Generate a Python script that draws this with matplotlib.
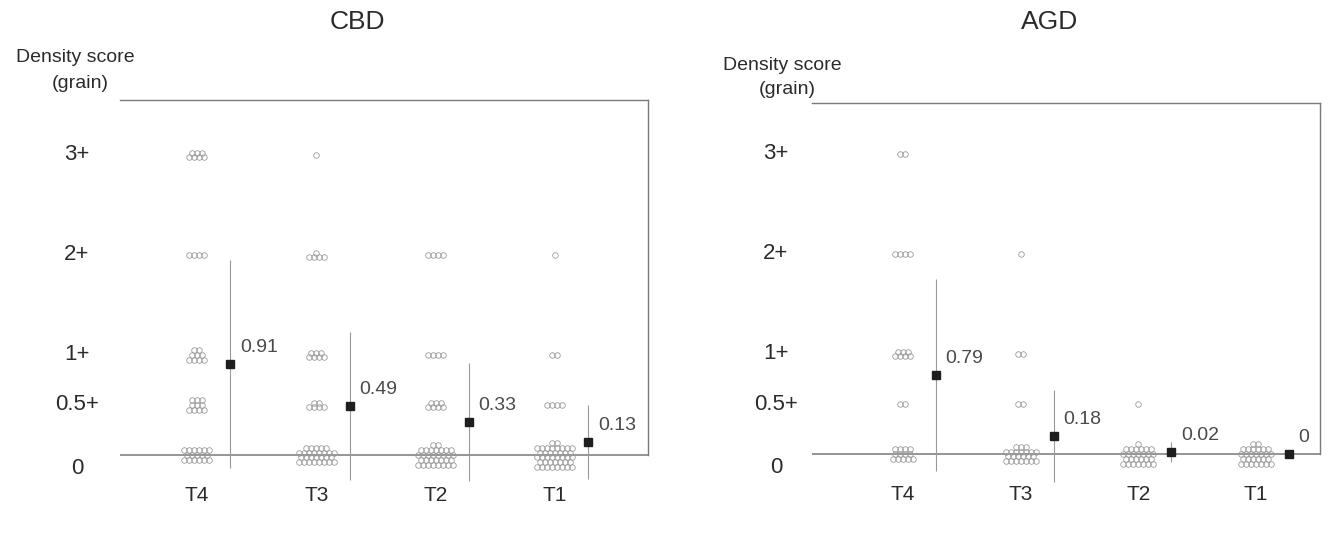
import numpy as np
import matplotlib
matplotlib.use('Agg')
import matplotlib.pyplot as plt
import matplotlib.transforms as mtransforms

plt.rcParams['font.family'] = ['Liberation Sans', 'DejaVu Sans']

# ---------------- data ----------------
groups = ['T4', 'T3', 'T2', 'T1']
score_levels = [0, 0.5, 1, 2, 3]
score_labels = ['0', '0.5+', '1+', '2+', '3+']

# number of cases at each density score, per group (T4, T3, T2, T1)
cbd_counts_zero = [17, 28, 32, 40]
cbd_counts_half = [10, 6, 7, 4]
cbd_counts_one = [9, 7, 4, 2]
cbd_counts_two = [4, 5, 4, 1]
cbd_counts_three = [7, 1, 0, 0]

agd_counts_zero = [13, 23, 27, 28]
agd_counts_half = [2, 2, 1, 0]
agd_counts_one = [7, 2, 0, 0]
agd_counts_two = [4, 1, 0, 0]
agd_counts_three = [2, 0, 0, 0]

cbd_mean = [0.91, 0.49, 0.33, 0.13]
cbd_sd = [1.04, 0.74, 0.59, 0.37]
cbd_mean_labels = ['0.91', '0.49', '0.33', '0.13']

agd_mean = [0.79, 0.18, 0.02, 0.0]
agd_sd = [0.96, 0.46, 0.10, 0.0]
agd_mean_labels = ['0.79', '0.18', '0.02', '0']

# ---------------- style ----------------
W, H = 1331, 533
DOT_EDGE = '#9a9a9a'
TEXT = '#2b2b2b'
ANN = '#4a4a4a'
LINE = '#999999'

fig = plt.figure(figsize=(W / 100, H / 100), dpi=100)
fig.patch.set_facecolor('white')


def cluster(n, width, dx, dy):
    rows = []
    remaining = n
    i = 0
    while remaining > 0:
        cap = width if i % 2 == 0 else max(1, width - 1)
        k = min(cap, remaining)
        rows.append(k)
        remaining -= k
        i += 1
    xs, ys = [], []
    nrows = len(rows)
    for r, k in enumerate(rows):
        yo = (r - (nrows - 1) / 2) * dy
        for j in range(k):
            xs.append((j - (k - 1) / 2) * dx)
            ys.append(yo)
    return xs, ys


def panel(rect, xlim, ylim, counts, zero_widths, means, sds, mlabels,
          title, title_x, dens_x, dens_y, ylab_x):
    ax = fig.add_axes(rect)
    ax.set_xlim(*xlim)
    ax.set_ylim(*ylim)
    ax.set_facecolor('none')
    wpx = rect[2] * W
    hpx = rect[3] * H
    ppx = wpx / (xlim[1] - xlim[0])
    ppy = hpx / (ylim[1] - ylim[0])
    dx = 5.0 / ppx
    dy = 4.8 / ppy

    xpos = np.arange(len(groups))
    for gi, x0 in enumerate(xpos):
        for li, lev in enumerate(score_levels):
            n = counts[li][gi]
            if n == 0:
                continue
            width = zero_widths[gi] if lev == 0 else 4
            xs, ys = cluster(n, width, dx, dy)
            ax.plot(np.array(xs) + x0, np.array(ys) + lev, 'o', ms=4.0,
                    mfc='none', mec=DOT_EDGE, mew=0.6, ls='none', zorder=3)

    off = 0.28
    for gi, x0 in enumerate(xpos):
        m, s = means[gi], sds[gi]
        if s > 0:
            ax.vlines(x0 + off, m - s, m + s, color=LINE, lw=0.8, zorder=2)
        ax.plot(x0 + off, m, 's', ms=5.8, color='#1e1e1e', zorder=4)
        ax.annotate(mlabels[gi], (x0 + off, m), xytext=(7, 12),
                    textcoords='offset points', ha='left', va='center',
                    fontsize=14, color=ANN)

    ax.axhline(0, color='#8c8c8c', lw=1.3, zorder=1)
    for sp in ['left', 'bottom']:
        ax.spines[sp].set_visible(False)
    for sp in ['top', 'right']:
        ax.spines[sp].set_color('#7a7a7a')
        ax.spines[sp].set_linewidth(1.0)
    ax.spines['right'].set_bounds(0, ylim[1])

    ax.set_xticks(xpos)
    ax.set_xticklabels(groups, fontsize=15, color=TEXT)
    ax.tick_params(axis='x', length=0, pad=1)
    ax.set_yticks([])

    blend = mtransforms.blended_transform_factory(ax.transAxes, ax.transData)
    for lev, lab in zip(score_levels, score_labels):
        ax.text(ylab_x, lev - (0.03 if lev == 0 else 0), lab, transform=blend,
                ha='center', va='top' if lev == 0 else 'center',
                fontsize=16, color=TEXT)

    fig.text(title_x / W, 1 - 22 / H, title, ha='center', va='center',
             fontsize=19, color=TEXT)
    fig.text(dens_x / W, 1 - dens_y / H, 'Density score', ha='center',
             va='center', fontsize=14, color=TEXT)
    fig.text((dens_x + 5) / W, 1 - (dens_y + 25) / H, '(grain)', ha='center',
             va='center', fontsize=14, color=TEXT)
    return ax


cbd_counts = [cbd_counts_zero, cbd_counts_half, cbd_counts_one,
              cbd_counts_two, cbd_counts_three]
agd_counts = [agd_counts_zero, agd_counts_half, agd_counts_one,
              agd_counts_two, agd_counts_three]

panel([120 / W, 1 - 485 / H, 528 / W, 385 / H], (-0.645, 3.78), (-0.3, 3.55),
      cbd_counts, [6, 8, 8, 8], cbd_mean, cbd_sd, cbd_mean_labels,
      'CBD', 357, 75, 58, -0.0814)

panel([812 / W, 1 - 484 / H, 508 / W, 381 / H], (-0.773, 3.544), (-0.3, 3.51),
      agd_counts, [5, 7, 7, 7], agd_mean, agd_sd, agd_mean_labels,
      'AGD', 1050, 782, 65, -0.0709)

fig.savefig('out.png', dpi=100, facecolor='white')
